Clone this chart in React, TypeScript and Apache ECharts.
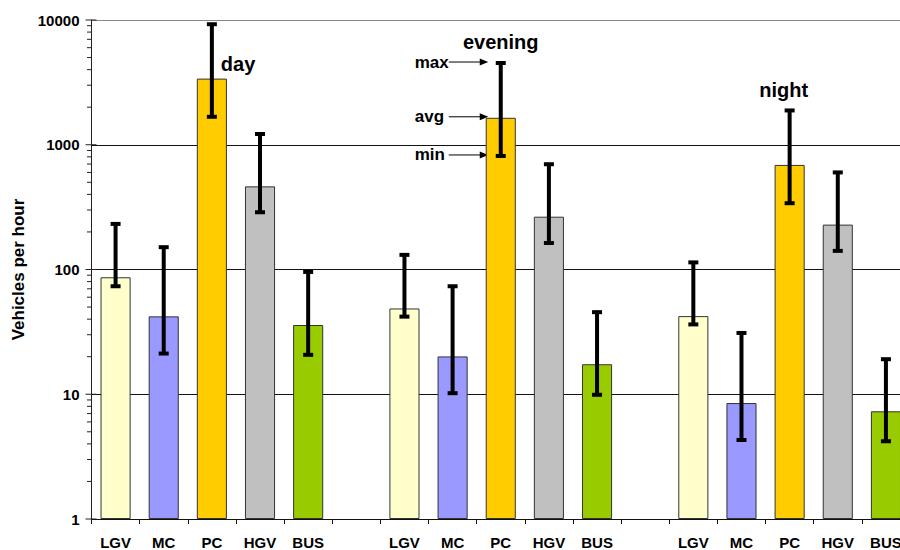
import React, { useEffect, useRef } from "react";
import * as echarts from "echarts";

// ---- data ----
const categories = ["LGV", "MC", "PC", "HGV", "BUS", "", "LGV", "MC", "PC", "HGV", "BUS", "", "LGV", "MC", "PC", "HGV", "BUS"];
const avgValues = [86.6, 42.1, 3390, 464, 35.9, null, 48.7, 20.1, 1645, 265, 17.4, null, 42.3, 8.5, 689, 229, 7.3];
const minValues = [73.4, 21.2, 1676, 288, 20.7, null, 41.9, 10.2, 813, 163, 9.9, null, 36.3, 4.3, 340, 141, 4.2];
const maxValues = [232, 151, 9250, 1218, 95.6, null, 131, 73.4, 4520, 698, 45.5, null, 114, 31, 1883, 600, 19.1];
const typeColors: Record<string, string> = {
  LGV: "#FFFFCC",
  MC: "#9999FF",
  PC: "#FFCC00",
  HGV: "#C0C0C0",
  BUS: "#99CC00",
};
const yTickValues = [1, 10, 100, 1000, 10000];
const yTickLabels = ["1", "10", "100", "1000", "10000"];
const minorTickMultipliers = [2, 3, 4, 5, 6, 7, 8, 9];
const periodLabels = [
  { label: "day", index: 2 },
  { label: "evening", index: 8 },
  { label: "night", index: 14 },
];
const legendLabels = ["max", "avg", "min"];

const FONT = "'Liberation Sans', Arial, sans-serif";

export default function App() {
  const ref = useRef<HTMLDivElement>(null);

  useEffect(() => {
    document.body.style.margin = "0";
    document.body.style.overflow = "hidden";
    if (!ref.current) return;
    const chart = echarts.init(ref.current, null, { renderer: "svg" });

    const barData = avgValues.map((v, i) =>
      v == null
        ? "-"
        : {
            value: v,
            itemStyle: { color: typeColors[categories[i]] },
          }
    );
    const errData: number[][] = [];
    avgValues.forEach((v, i) => {
      if (v != null) errData.push([i, minValues[i] as number, maxValues[i] as number]);
    });
    const minorData: number[][] = [];
    yTickValues.slice(0, -1).forEach((d) => {
      minorTickMultipliers.forEach((m) => minorData.push([0, m * d]));
    });
    const majorData = yTickValues.map((v) => [0, v]);

    const option: any = {
      animation: false,
      grid: { left: 91.5, top: 20, width: 818.5, height: 502, containLabel: false },
      xAxis: {
        type: "category",
        data: categories,
        boundaryGap: true,
        axisLine: { show: true, lineStyle: { color: "#111", width: 1 } },
        axisTick: { show: true, length: 5, alignWithLabel: false, interval: 0, lineStyle: { color: "#111" } },
        axisLabel: {
          interval: 0,
          margin: 16,
          fontFamily: FONT,
          fontWeight: "bold",
          fontSize: 15,
          color: "#000",
        },
        splitLine: { show: false },
      },
      yAxis: {
        type: "log",
        logBase: 10,
        min: 1,
        max: 10000,
        name: "Vehicles per hour",
        nameLocation: "middle",
        nameRotate: 90,
        nameGap: 65,
        nameTextStyle: { fontFamily: FONT, fontWeight: "bold", fontSize: 17, color: "#000" },
        axisLine: { show: true, lineStyle: { color: "#222", width: 1 } },
        axisTick: { show: false },
        axisLabel: {
          margin: 12,
          fontFamily: FONT,
          fontWeight: "bold",
          fontSize: 15,
          color: "#000",
          formatter: (v: number) => {
            const k = yTickValues.indexOf(Math.round(v));
            return k >= 0 ? yTickLabels[k] : String(v);
          },
        },
        splitLine: {
          show: true,
          lineStyle: { color: ["#111", "#111", "#111", "#111", "#888"], width: 1 },
        },
      },
      series: [
        {
          type: "bar",
          data: barData,
          barWidth: "62.5%",
          itemStyle: { borderColor: "#333", borderWidth: 1 },
          z: 2,
        },
        {
          type: "custom",
          data: errData,
          z: 5,
          silent: true,
          renderItem: (params: any, api: any) => {
            const idx = api.value(0);
            const pMin = api.coord([idx, api.value(1)]);
            const pMax = api.coord([idx, api.value(2)]);
            const x = pMin[0];
            const style = { fill: "#000" };
            return {
              type: "group",
              children: [
                { type: "rect", shape: { x: x - 2, y: pMax[1], width: 4, height: pMin[1] - pMax[1] }, style },
                { type: "rect", shape: { x: x - 5, y: pMax[1] - 2, width: 10, height: 4 }, style },
                { type: "rect", shape: { x: x - 5, y: pMin[1] - 2, width: 10, height: 4 }, style },
              ],
            };
          },
        },
        {
          type: "custom",
          data: minorData,
          z: 6,
          silent: true,
          clip: false,
          renderItem: (params: any, api: any) => {
            const y = api.coord([0, api.value(1)])[1];
            const x0 = params.coordSys.x;
            return {
              type: "line",
              shape: { x1: x0 - 4.5, y1: y, x2: x0, y2: y },
              style: { stroke: "#222", lineWidth: 1 },
            };
          },
        },
        {
          type: "custom",
          data: majorData,
          z: 6,
          silent: true,
          clip: false,
          renderItem: (params: any, api: any) => {
            const y = api.coord([0, api.value(1)])[1];
            const x0 = params.coordSys.x;
            return {
              type: "line",
              shape: { x1: x0 - 6, y1: y, x2: x0 + 5, y2: y },
              style: { stroke: "#222", lineWidth: 1 },
            };
          },
        },
      ],
    };
    chart.setOption(option);

    // annotations anchored to data positions
    const px = (i: number, v: number) => chart.convertToPixel({ gridIndex: 0 }, [i, v]) as number[];
    const graphics: any[] = [];
    const textStyleBase = { fontFamily: FONT, fontWeight: "bold", fill: "#000" };
    // day
    {
      const i = periodLabels[0].index;
      const p = px(i, avgValues[i] as number);
      graphics.push({
        type: "text",
        x: p[0] + 9,
        y: p[1] - 15,
        style: { ...textStyleBase, text: periodLabels[0].label, fontSize: 20, align: "left", verticalAlign: "middle" },
      });
    }
    // evening
    {
      const i = periodLabels[1].index;
      const p = px(i, maxValues[i] as number);
      graphics.push({
        type: "text",
        x: p[0],
        y: p[1] - 21,
        style: { ...textStyleBase, text: periodLabels[1].label, fontSize: 20, align: "center", verticalAlign: "middle" },
      });
      const levels = [maxValues[i] as number, avgValues[i] as number, minValues[i] as number];
      levels.forEach((lv, k) => {
        const q = px(i, lv);
        const cx = q[0];
        const y = q[1] - 1;
        graphics.push({
          type: "text",
          x: cx - 86,
          y: y,
          style: { ...textStyleBase, text: legendLabels[k], fontSize: 17, align: "left", verticalAlign: "middle" },
        });
        graphics.push({
          type: "line",
          shape: { x1: cx - 52, y1: y, x2: cx - 20, y2: y },
          style: { stroke: "#000", lineWidth: 1 },
        });
        graphics.push({
          type: "polygon",
          shape: { points: [[cx - 21, y - 3.5], [cx - 12.5, y], [cx - 21, y + 3.5]] },
          style: { fill: "#000" },
        });
      });
    }
    // night
    {
      const i = periodLabels[2].index;
      const p = px(i, maxValues[i] as number);
      graphics.push({
        type: "text",
        x: p[0] - 6,
        y: p[1] - 20.5,
        style: { ...textStyleBase, text: periodLabels[2].label, fontSize: 20, align: "center", verticalAlign: "middle" },
      });
    }
    chart.setOption({ graphic: graphics });

    return () => chart.dispose();
  }, []);

  return <div ref={ref} style={{ width: 930, height: 550 }} />;
}
